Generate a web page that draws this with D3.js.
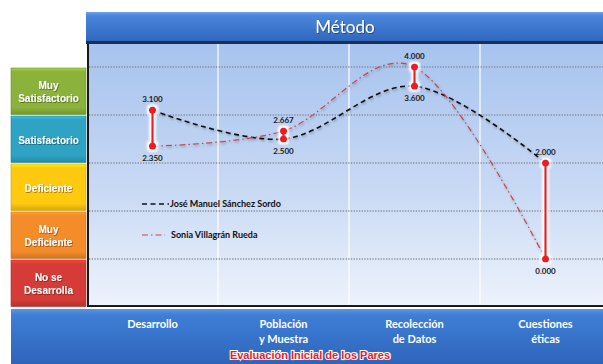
<!DOCTYPE html>
<html>
<head>
<meta charset="utf-8">
<script src="https://cdn.jsdelivr.net/npm/d3@7/dist/d3.min.js"></script>
<style>
  html, body { margin: 0; padding: 0; background: #ffffff; }
  svg { display: block; }
</style>
</head>
<body>
<svg id="chart" width="603" height="364"></svg>
<script>
// Evaluation categories (x) and the two reviewers' scores
const categories = [["Desarrollo"], ["Población", "y Muestra"], ["Recolección", "de Datos"], ["Cuestiones", "éticas"]];
const jose = [3.1, 2.5, 3.6, 2.0];
const sonia = [2.35, 2.667, 4.0, 0.0];
const seriesNames = ["José Manuel Sánchez Sordo", "Sonia Villagrán Rueda"];
const levels = [["Muy", "Satisfactorio"], ["Satisfactorio"], ["Deficiente"], ["Muy", "Deficiente"], ["No se", "Desarrolla"]];
const levelColors = ["#8bb23b", "#2ea3c4", "#ffc910", "#f58c2a", "#d63c37"];
const gridValues = [0, 1, 2, 3, 4];
const title = "Método";
const footerTitle = "Evaluación Inicial de los Pares";

const svg = d3.select("#chart");
const defs = svg.append("defs");
const font = "Lato, 'Open Sans', sans-serif";

// gradients
function vGrad(id, stops) {
  const g = defs.append("linearGradient").attr("id", id).attr("x1", 0).attr("y1", 0).attr("x2", 0).attr("y2", 1);
  stops.forEach(([o, c]) => g.append("stop").attr("offset", o).attr("stop-color", c));
}
vGrad("hdr", [[0, "#6ea3ea"], [0.12, "#4a86dc"], [1, "#2f66bd"]]);
vGrad("ftr", [[0, "#5b95e2"], [0.1, "#3f7ed6"], [1, "#2c62b8"]]);
vGrad("plotbg", [[0, "#a7c3ee"], [0.55, "#c8d9f4"], [1, "#eef3fc"]]);
levelColors.forEach((c, i) => {
  const col = d3.color(c);
  vGrad("lv" + i, [[0, col.brighter(0.5).formatHex()], [0.08, c], [0.85, c], [1, col.darker(0.5).formatHex()]]);
});
const glow = defs.append("filter").attr("id", "glow").attr("x", "-50%").attr("y", "-50%").attr("width", "200%").attr("height", "200%");
glow.append("feMorphology").attr("in", "SourceAlpha").attr("operator", "dilate").attr("radius", 1.6).attr("result", "d");
glow.append("feFlood").attr("flood-color", "#ffffff");
glow.append("feComposite").attr("in2", "d").attr("operator", "in").attr("result", "w");
glow.append("feGaussianBlur").attr("in", "w").attr("stdDeviation", 0.8).attr("result", "wb");
const gm = glow.append("feMerge");
gm.append("feMergeNode").attr("in", "wb");
gm.append("feMergeNode").attr("in", "SourceGraphic");
const shadow = defs.append("filter").attr("id", "tshadow");
shadow.append("feDropShadow").attr("dx", 0.8).attr("dy", 0.8).attr("stdDeviation", 0.5).attr("flood-color", "#000").attr("flood-opacity", 0.45);
const lshadow = defs.append("filter").attr("id", "lshadow").attr("x", "-10%").attr("y", "-10%").attr("width", "120%").attr("height", "130%");
lshadow.append("feDropShadow").attr("dx", 1).attr("dy", 1.5).attr("stdDeviation", 0.8).attr("flood-color", "#000").attr("flood-opacity", 0.3);

// layout
const plot = { left: 87, right: 611, top: 44, bottom: 307 };
const x = d3.scaleBand().domain(d3.range(categories.length)).range([plot.left, plot.right]).padding(0);
const y = d3.scaleLinear().domain([0, 4]).range([259, 67]);

// header
svg.append("rect").attr("x", 86).attr("y", 12).attr("width", 520).attr("height", 30).attr("fill", "url(#hdr)");
svg.append("rect").attr("x", 86).attr("y", 41).attr("width", 520).attr("height", 3).attr("fill", "#1b2f52");
svg.append("text").attr("x", 345).attr("y", 33).attr("text-anchor", "middle")
  .attr("font-family", font).attr("font-size", 17).attr("fill", "#ffffff").attr("filter", "url(#tshadow)").text(title);

// plot background
svg.append("rect").attr("x", plot.left).attr("y", plot.top).attr("width", plot.right - plot.left).attr("height", plot.bottom - plot.top)
  .attr("fill", "url(#plotbg)");
svg.append("line").attr("x1", plot.left + 1).attr("x2", plot.left + 1).attr("y1", plot.top).attr("y2", plot.bottom)
  .attr("stroke", "#1a1a1a").attr("stroke-width", 2);
svg.append("line").attr("x1", plot.left).attr("x2", plot.right).attr("y1", plot.bottom - 1).attr("y2", plot.bottom - 1)
  .attr("stroke", "#1a1a1a").attr("stroke-width", 2);

// vertical separators between categories
svg.append("g").selectAll("line").data(d3.range(1, categories.length)).join("line")
  .attr("x1", d => x(d)).attr("x2", d => x(d)).attr("y1", plot.top).attr("y2", plot.bottom - 2)
  .attr("stroke", "#ffffff").attr("stroke-width", 1.2);

// horizontal dotted gridlines
svg.append("g").selectAll("line").data(gridValues).join("line")
  .attr("x1", plot.left + 2).attr("x2", plot.right).attr("y1", d => y(d)).attr("y2", d => y(d))
  .attr("stroke", "#8a8f99").attr("stroke-width", 1.3).attr("stroke-dasharray", "1.3,1.4");

// level boxes on the left
const bandH = y(3) - y(4);
const lv = svg.append("g");
levels.forEach((lab, i) => {
  const top = y(4) + i * bandH + 1;
  lv.append("rect").attr("x", 11).attr("y", top).attr("width", 75).attr("height", bandH - 1.5)
    .attr("fill", "url(#lv" + i + ")").attr("stroke", d3.color(levelColors[i]).darker(0.6)).attr("stroke-width", 0.6);
  const t = lv.append("text").attr("text-anchor", "middle").attr("font-family", "'Liberation Sans', Arial, sans-serif")
    .attr("font-weight", "bold").attr("font-size", 10).attr("fill", "#ffffff").attr("filter", "url(#tshadow)");
  const cy = top + bandH / 2;
  lab.forEach((s, k) => {
    t.append("tspan").attr("x", 48.5).attr("y", cy + 3.5 + (k - (lab.length - 1) / 2) * 12.5).text(s);
  });
});

// footer
svg.append("rect").attr("x", 11).attr("y", 309).attr("width", 600).attr("height", 60).attr("fill", "url(#ftr)");
const xl = svg.append("g");
categories.forEach((lab, i) => {
  const t = xl.append("text").attr("text-anchor", "middle").attr("font-family", font)
    .attr("font-weight", "bold").attr("font-size", 11).attr("fill", "#ffffff");
  lab.forEach((s, k) => t.append("tspan").attr("x", x(i) + x.bandwidth() / 2).attr("y", 328 + k * 15).text(s));
});
svg.append("text").attr("x", 310).attr("y", 359).attr("text-anchor", "middle")
  .attr("font-family", "'Liberation Sans', Arial, sans-serif").attr("font-weight", "bold").attr("font-size", 11)
  .attr("fill", "#e8202a").attr("stroke", "#ffffff").attr("stroke-width", 2.2).attr("paint-order", "stroke")
  .text(footerTitle);

// series curves
const cx = i => x(i) + x.bandwidth() / 2;
const line = d3.line().x((d, i) => cx(i)).y(d => y(d)).curve(d3.curveCatmullRom.alpha(0));
svg.append("path").datum(jose).attr("d", line).attr("fill", "none")
  .attr("stroke", "#111111").attr("stroke-width", 1.6).attr("stroke-dasharray", "5,3.5").attr("filter", "url(#lshadow)");
svg.append("path").datum(sonia).attr("d", line).attr("fill", "none")
  .attr("stroke", "#c8454a").attr("stroke-width", 1.2).attr("stroke-dasharray", "6,3,1.5,3").attr("filter", "url(#lshadow)");

// high-low bars with end markers
const hl = svg.append("g").attr("filter", "url(#glow)");
jose.forEach((v, i) => {
  const hi = Math.max(v, sonia[i]), lo = Math.min(v, sonia[i]);
  hl.append("line").attr("x1", cx(i)).attr("x2", cx(i)).attr("y1", y(hi)).attr("y2", y(lo))
    .attr("stroke", "#ee1c24").attr("stroke-width", 2.6);
  [hi, lo].forEach(val => hl.append("circle").attr("cx", cx(i)).attr("cy", y(val)).attr("r", 3.6).attr("fill", "#ee1c24"));
});
const fmt = d3.format(".3f");
const lbl = svg.append("g").attr("font-family", font).attr("font-weight", "bold").attr("font-size", 8)
  .attr("fill", "#1a1a1a").attr("text-anchor", "middle");
jose.forEach((v, i) => {
  const hi = Math.max(v, sonia[i]), lo = Math.min(v, sonia[i]);
  lbl.append("text").attr("x", cx(i)).attr("y", y(hi) - 8).text(fmt(hi));
  lbl.append("text").attr("x", cx(i)).attr("y", y(lo) + 15).text(fmt(lo));
});

// legend
const lg = svg.append("g").attr("font-family", font).attr("font-weight", "bold").attr("font-size", 9).attr("fill", "#111");
lg.append("line").attr("x1", 142).attr("x2", 169).attr("y1", 204).attr("y2", 204)
  .attr("stroke", "#111").attr("stroke-width", 1.6).attr("stroke-dasharray", "5,3.5");
lg.append("text").attr("x", 170).attr("y", 207).text(seriesNames[0]);
lg.append("line").attr("x1", 142).attr("x2", 165).attr("y1", 235).attr("y2", 235)
  .attr("stroke", "#c8454a").attr("stroke-width", 1.2).attr("stroke-dasharray", "6,3,1.5,3");
lg.append("text").attr("x", 171).attr("y", 238).text(seriesNames[1]);
</script>
</body>
</html>
